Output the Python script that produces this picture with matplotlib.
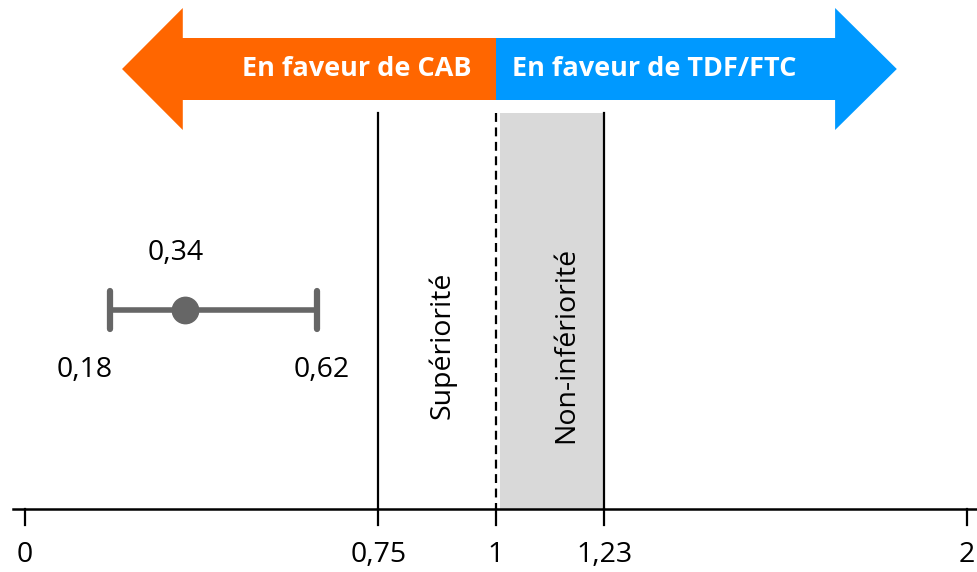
import matplotlib
matplotlib.use("Agg")
import matplotlib.pyplot as plt
from matplotlib.patches import Polygon, Rectangle

plt.rcParams['font.family'] = ['Open Sans', 'DejaVu Sans']

# Hazard ratio and its 95% confidence interval
hr_point = 0.34
ci_low = 0.18
ci_high = 0.62

# Reference thresholds on the HR axis
superiority_margin = 0.75
no_effect = 1.0
noninferiority_margin = 1.23

tick_values = [0, 0.75, 1, 1.23, 2]
tick_labels = ["0", "0,75", "1", "1,23", "2"]

band_labels = ["Supériorité", "Non-infériorité"]
arrow_labels = ["En faveur de CAB", "En faveur de TDF/FTC"]

orange = "#FF6600"
blue = "#0099FF"
grey_bar = "#666666"
shade = "#D9D9D9"

W, H = 978, 572
fig = plt.figure(figsize=(W / 100, H / 100), dpi=100)
ax = fig.add_axes([0, 0, 1, 1])
# x in HR units, y in pixel rows (top = 0)
ax.set_xlim(-0.0531, 2.0234)
ax.set_ylim(H, 0)
ax.axis("off")

axis_y = 509
top_y = 113
tick_len = 16
fs = 20.5


def fmt(v):
    return f"{v:.2f}".replace(".", ",")


# Direction arrows
body_top, body_bot, head_top, head_bot, mid = 38, 100, 8, 130, 69
left_tip, left_base = 0.206, 0.335
right_tip, right_base = 1.851, 1.72
ax.add_patch(Polygon([(no_effect, body_top), (left_base, body_top), (left_base, head_top),
                      (left_tip, mid), (left_base, head_bot), (left_base, body_bot),
                      (no_effect, body_bot)], closed=True, facecolor=orange,
                     edgecolor="none", zorder=3))
ax.add_patch(Polygon([(no_effect, body_top), (right_base, body_top), (right_base, head_top),
                      (right_tip, mid), (right_base, head_bot), (right_base, body_bot),
                      (no_effect, body_bot)], closed=True, facecolor=blue,
                     edgecolor="none", zorder=3))
ax.text(no_effect - 0.052, mid, arrow_labels[0], ha="right", va="center",
        color="white", fontsize=19.5, fontweight="bold", zorder=4)
ax.text(no_effect + 0.035, mid, arrow_labels[1], ha="left", va="center",
        color="white", fontsize=19.5, fontweight="bold", zorder=4)

# Non-inferiority band
ax.add_patch(Rectangle((no_effect + 0.008, top_y), noninferiority_margin - no_effect - 0.008,
                       axis_y - top_y, facecolor=shade, edgecolor="none", zorder=1))

# Threshold lines
ax.plot([superiority_margin] * 2, [top_y, axis_y], color="black", lw=1.6, zorder=2)
ax.plot([noninferiority_margin] * 2, [top_y, axis_y], color="black", lw=1.6, zorder=2)
ax.plot([no_effect] * 2, [top_y, axis_y], color="black", lw=1.6, ls=(0, (4, 2.5)), zorder=2)

# Axis line and ticks
ax.plot([-0.0255, 2.0234], [axis_y, axis_y], color="black", lw=1.8, zorder=2)
for v, lab in zip(tick_values, tick_labels):
    ax.plot([v, v], [axis_y, axis_y + tick_len], color="black", lw=1.6, zorder=2)
    ax.text(v, 555, lab, ha="center", va="center", fontsize=fs)

# Band labels
ax.text((superiority_margin + no_effect) / 2 + 0.01, 345, band_labels[0], rotation=90,
        ha="center", va="center", fontsize=fs)
ax.text((no_effect + noninferiority_margin) / 2 + 0.034, 345, band_labels[1], rotation=90,
        ha="center", va="center", fontsize=fs)

# Confidence interval with point estimate
ci_y = 310
ax.plot([ci_low, ci_high], [ci_y, ci_y], color=grey_bar, lw=4, solid_capstyle="butt", zorder=3)
for v in (ci_low, ci_high):
    ax.plot([v, v], [ci_y - 19, ci_y + 19], color=grey_bar, lw=4.5, solid_capstyle="round", zorder=3)
ax.plot([hr_point], [ci_y], "o", color=grey_bar, ms=19, zorder=4)
ax.text(hr_point - 0.02, 253, fmt(hr_point), ha="center", va="center", fontsize=fs)
ax.text(ci_low - 0.053, 370, fmt(ci_low), ha="center", va="center", fontsize=fs)
ax.text(ci_high + 0.01, 370, fmt(ci_high), ha="center", va="center", fontsize=fs)

fig.savefig("out.png", dpi=100)
